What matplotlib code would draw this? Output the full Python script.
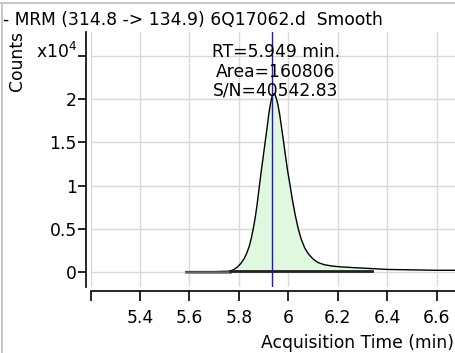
import matplotlib
matplotlib.use('Agg')
import matplotlib.pyplot as plt
from matplotlib.lines import Line2D

# chromatogram (time in min, counts)
rt_min = [5.586, 5.700, 5.764, 5.780, 5.795, 5.808, 5.820, 5.832, 5.842, 5.850,
          5.858, 5.866, 5.874, 5.883, 5.891, 5.899, 5.906, 5.914, 5.921, 5.928,
          5.934, 5.940, 5.946, 5.952, 5.958, 5.965, 5.972, 5.980, 5.988, 5.997,
          6.007, 6.016, 6.027, 6.040, 6.052, 6.066, 6.081, 6.100, 6.120, 6.145,
          6.175, 6.210, 6.270, 6.337, 6.400, 6.500, 6.600, 6.680]
counts = [50, 50, 100, 300, 600, 1000, 1500, 2200, 3000, 3900,
          5000, 6300, 7900, 10000, 11800, 13500, 15000, 16700, 18300, 19500,
          20300, 20600, 20500, 20000, 19300, 18200, 16800, 15200, 13500, 11700,
          10000, 8400, 6700, 5000, 3800, 2800, 2100, 1500, 1100, 850,
          700, 600, 500, 400, 300, 250, 200, 200]

peak_start, peak_end = 5.764, 6.337
peak_rt_line = 5.935
title = "- MRM (314.8 -> 134.9) 6Q17062.d  Smooth"
peak_info = ["RT=5.949 min.", "Area=160806", "S/N=40542.83"]
x_ticks = [5.2, 5.4, 5.6, 5.8, 6.0, 6.2, 6.4, 6.6]
x_tick_labels = ["", "5.4", "5.6", "5.8", "6", "6.2", "6.4", "6.6"]
y_ticks = [0, 0.5, 1, 1.5, 2, 2.5]
y_tick_labels = ["0", "0.5", "1", "1.5", "2", ""]

plt.rcParams['font.family'] = ['DejaVu Sans']
fs = 12.3

W, H = 455, 353
fig = plt.figure(figsize=(W / 100, H / 100), dpi=100)
ax = fig.add_axes([90.6 / W, 1 - 287 / H, 1 - 90.6 / W, (287 - 32) / H])

y = [c / 1e4 for c in counts]

# integrated region
in_peak = [(t, v) for t, v in zip(rt_min, y) if peak_start - 1e-9 <= t <= peak_end + 1e-9]
ax.fill_between([p[0] for p in in_peak], 0.01, [p[1] for p in in_peak],
                color='#e0f8e0', lw=0, zorder=2)

ax.plot(rt_min, y, color='black', lw=1, zorder=3)
ax.plot([rt_min[0], peak_start], [y[0], y[0]], color='#666666', lw=1.8, zorder=3)
ax.plot([peak_start, peak_end], [0.01, 0.01], color='#222222', lw=2, zorder=4)
ax.axvline(peak_rt_line, color='#202090', lw=1, zorder=5)

for i, line in enumerate(peak_info):
    ax.text(5.95, [2.54, 2.31, 2.10][i], line, ha='center', va='center',
            fontsize=fs, zorder=6)

ax.set_xlim(5.2, 5.2 + (W - 90.6) / 247.2)
ax.set_ylim(-0.173, 2.775)
ax.set_xticks(x_ticks)
ax.set_xticklabels(x_tick_labels)
ax.set_yticks(y_ticks)
ax.set_yticklabels(y_tick_labels)
ax.grid(True, color='#d9d9d9', lw=1)
ax.set_axisbelow(True)

for s in ['top', 'right']:
    ax.spines[s].set_visible(False)
ax.spines['left'].set_position(('outward', 3))
ax.spines['bottom'].set_position(('outward', 3))
ax.spines['left'].set_linewidth(1.2)
ax.spines['bottom'].set_linewidth(1.2)
ax.tick_params(axis='x', direction='out', length=7, width=1.2, pad=6, labelsize=fs)
ax.tick_params(axis='y', direction='out', length=6, width=1.2, pad=1, labelsize=fs)

fig.text(3 / W, 1 - 20 / H, title, fontsize=fs, ha='left', va='center')
fig.text(17 / W, 1 - 61 / H, "Counts", fontsize=fs, rotation=90, ha='center', va='center')
fig.text(77 / W, 1 - 52 / H, r"x10$^4$", fontsize=fs, ha='right', va='center')
fig.text(454 / W, 1 - 343 / H, "Acquisition Time (min)", fontsize=fs, ha='right', va='center')

# panel border
fig.add_artist(Line2D([0, 1], [1 - 3 / H, 1 - 3 / H], transform=fig.transFigure,
                      color='#c8c8c8', lw=1.5))
fig.add_artist(Line2D([2 / W, 2 / W], [0, 1 - 3 / H], transform=fig.transFigure,
                      color='#c8c8c8', lw=1.5))

fig.savefig('out.png', dpi=100)
